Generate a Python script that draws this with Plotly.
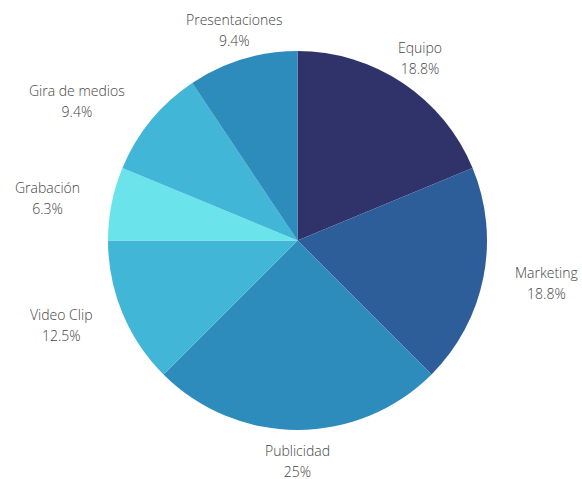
import math
import plotly.graph_objects as go

labels = ["Equipo", "Marketing", "Publicidad", "Video Clip", "Grabación", "Gira de medios", "Presentaciones"]
values = [6, 6, 8, 4, 2, 3, 3]
percent_text = ["18.8%", "18.8%", "25%", "12.5%", "6.3%", "9.4%", "9.4%"]
colors = ["#2f336a", "#2e5e99", "#2d8cbb", "#42b6d6", "#6ae4ea", "#42b6d6", "#2d8cbb"]

fig = go.Figure(go.Pie(
    labels=labels,
    values=values,
    textinfo="none",
    sort=False,
    direction="clockwise",
    rotation=0,
    marker=dict(colors=colors, line=dict(width=0)),
    showlegend=False,
    automargin=False,
    hovertemplate="%{label}<br>%{percent}<extra></extra>",
))

# label positions derived from the slice mid-angles
total = sum(values)
label_dist = 220
font = dict(family="Open Sans", size=16, color="#444444", weight=300)
cum = 0
annotations = []
for lab, val, pct in zip(labels, values, percent_text):
    mid = (cum + val / 2) / total * 2 * math.pi
    cum += val
    s, c = math.sin(mid), math.cos(mid)
    dx, dy = label_dist * s, label_dist * c
    if abs(s) < 0.7:
        xa = "center"
    elif s > 0:
        xa = "left"
    else:
        xa = "right"
    txt = ("<span style='font-size:14px'>%s</span><br>"
           "<span style='font-size:14px'>%s</span>") % (lab, pct)
    annotations.append(dict(
        x=0.5, y=0.5, xref="paper", yref="paper",
        xshift=dx, yshift=dy,
        text=txt, showarrow=False,
        xanchor=xa, yanchor="middle", align="center",
        font=font,
    ))

fig.update_layout(
    width=582, height=479,
    margin=dict(l=13, r=0, t=51, b=49),
    paper_bgcolor="white",
    plot_bgcolor="white",
    annotations=annotations,
)

fig.write_html("out.html")
